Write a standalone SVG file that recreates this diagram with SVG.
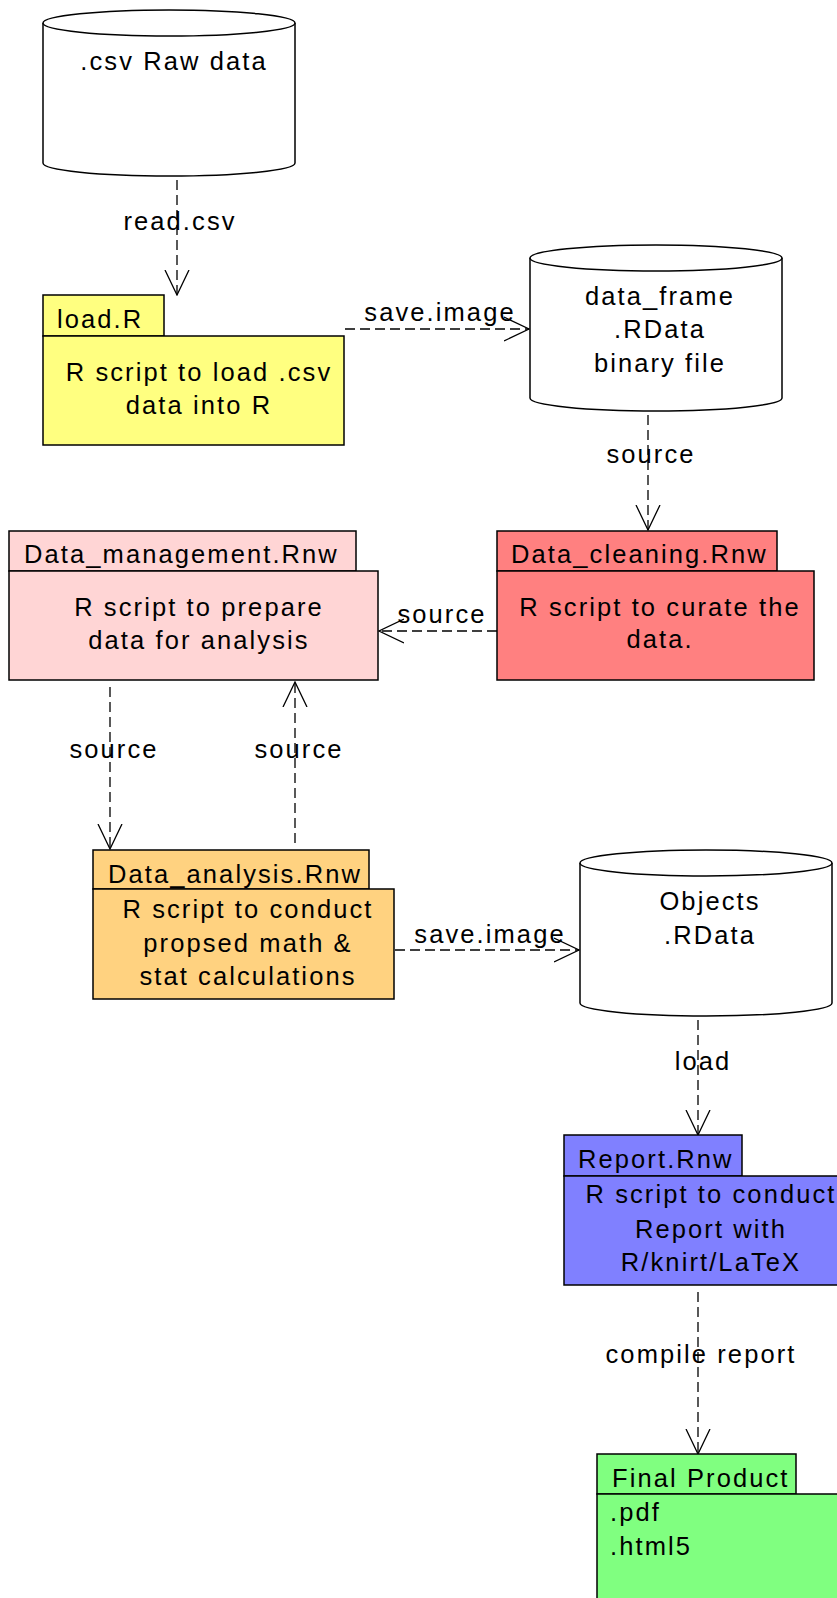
<svg xmlns="http://www.w3.org/2000/svg" width="837" height="1598" viewBox="0 0 837 1598">
<defs>
<marker id="open" viewBox="0 0 26 26" refX="25" refY="13" markerWidth="26" markerHeight="26" markerUnits="userSpaceOnUse" orient="auto">
<path d="M0,1 L25,13 L0,25" fill="none" stroke="#000" stroke-width="1.3"/>
</marker>
<style>
text{font-family:"Liberation Sans",Arial,sans-serif;font-size:25.5px;letter-spacing:2.1px;fill:#000}
.c{text-anchor:middle}
.box{stroke:#000;stroke-width:1.5}
.cyl{fill:#fff;stroke:#000;stroke-width:1.5}
.edge{fill:none;stroke:#000;stroke-width:1.3;stroke-dasharray:10,5;marker-end:url(#open)}
</style>
</defs>
<rect width="837" height="1598" fill="#fff"/>

<g id="connectors">
<path class="edge" d="M177,180 L177,295"/>
<text class="c" x="180" y="230">read.csv</text>
<path class="edge" d="M345,329 L529,329"/>
<text class="c" x="440" y="321">save.image</text>
<path class="edge" d="M648,415 L648,530"/>
<text class="c" x="651" y="463">source</text>
<path class="edge" d="M497,631 L379,631"/>
<text class="c" x="442" y="623">source</text>
<path class="edge" d="M110,687 L110,849"/>
<text class="c" x="114" y="758">source</text>
<path class="edge" d="M295,843 L295,682"/>
<text class="c" x="299" y="758">source</text>
<path class="edge" d="M395,950 L579,950"/>
<text class="c" x="490" y="943">save.image</text>
<path class="edge" d="M698,1020 L698,1135"/>
<text class="c" x="703" y="1070">load</text>
<path class="edge" d="M698,1292 L698,1454"/>
<text class="c" x="701" y="1363">compile report</text>
</g>

<g id="raw_csv">
<path class="cyl" d="M43,23 L43,163 A126,13 0 0 0 295,163 L295,23"/>
<ellipse class="cyl" cx="169" cy="23" rx="126" ry="13"/>
<text class="c" x="174" y="70">.csv Raw data</text>
</g>

<g id="load_r">
<rect class="box" x="43" y="295" width="121" height="41" fill="#ffff80"/>
<rect class="box" x="43" y="336" width="301" height="109" fill="#ffff80"/>
<text x="57" y="328">load.R</text>
<text class="c" x="199" y="381">R script to load .csv</text>
<text class="c" x="199" y="414">data into R</text>
</g>

<g id="data_frame">
<path class="cyl" d="M530,258 L530,398 A126,13 0 0 0 782,398 L782,258"/>
<ellipse class="cyl" cx="656" cy="258" rx="126" ry="13"/>
<text class="c" x="660" y="305">data_frame</text>
<text class="c" x="660" y="338">.RData</text>
<text class="c" x="660" y="372">binary file</text>
</g>

<g id="data_cleaning">
<rect class="box" x="497" y="531" width="280" height="40" fill="#ff8080"/>
<rect class="box" x="497" y="571" width="317" height="109" fill="#ff8080"/>
<text x="511" y="563">Data_cleaning.Rnw</text>
<text class="c" x="660" y="616">R script to curate the</text>
<text class="c" x="660" y="648">data.</text>
</g>

<g id="data_management">
<rect class="box" x="9" y="531" width="347" height="40" fill="#ffd5d5"/>
<rect class="box" x="9" y="571" width="369" height="109" fill="#ffd5d5"/>
<text x="24" y="563">Data_management.Rnw</text>
<text class="c" x="199" y="616">R script to prepare</text>
<text class="c" x="199" y="649">data for analysis</text>
</g>

<g id="data_analysis">
<rect class="box" x="93" y="850" width="276" height="39" fill="#ffd280"/>
<rect class="box" x="93" y="889" width="301" height="110" fill="#ffd280"/>
<text x="108" y="883">Data_analysis.Rnw</text>
<text class="c" x="248" y="918">R script to conduct</text>
<text class="c" x="248" y="952">propsed math &amp;</text>
<text class="c" x="248" y="985">stat calculations</text>
</g>

<g id="objects">
<path class="cyl" d="M580,863 L580,1003 A126,13 0 0 0 832,1003 L832,863"/>
<ellipse class="cyl" cx="706" cy="863" rx="126" ry="13"/>
<text class="c" x="710" y="910">Objects</text>
<text class="c" x="710" y="944">.RData</text>
</g>

<g id="report">
<rect class="box" x="564" y="1135" width="178" height="41" fill="#8080ff"/>
<rect class="box" x="564" y="1176" width="300" height="109" fill="#8080ff"/>
<text x="578" y="1168">Report.Rnw</text>
<text class="c" x="711" y="1203">R script to conduct</text>
<text class="c" x="711" y="1238">Report with</text>
<text class="c" x="711" y="1271">R/knirt/LaTeX</text>
</g>

<g id="final_product">
<rect class="box" x="597" y="1454" width="199" height="40" fill="#80ff80"/>
<rect class="box" x="597" y="1494" width="300" height="140" fill="#80ff80"/>
<text x="612" y="1487">Final Product</text>
<text x="610" y="1521">.pdf</text>
<text x="610" y="1555">.html5</text>
</g>
</svg>
